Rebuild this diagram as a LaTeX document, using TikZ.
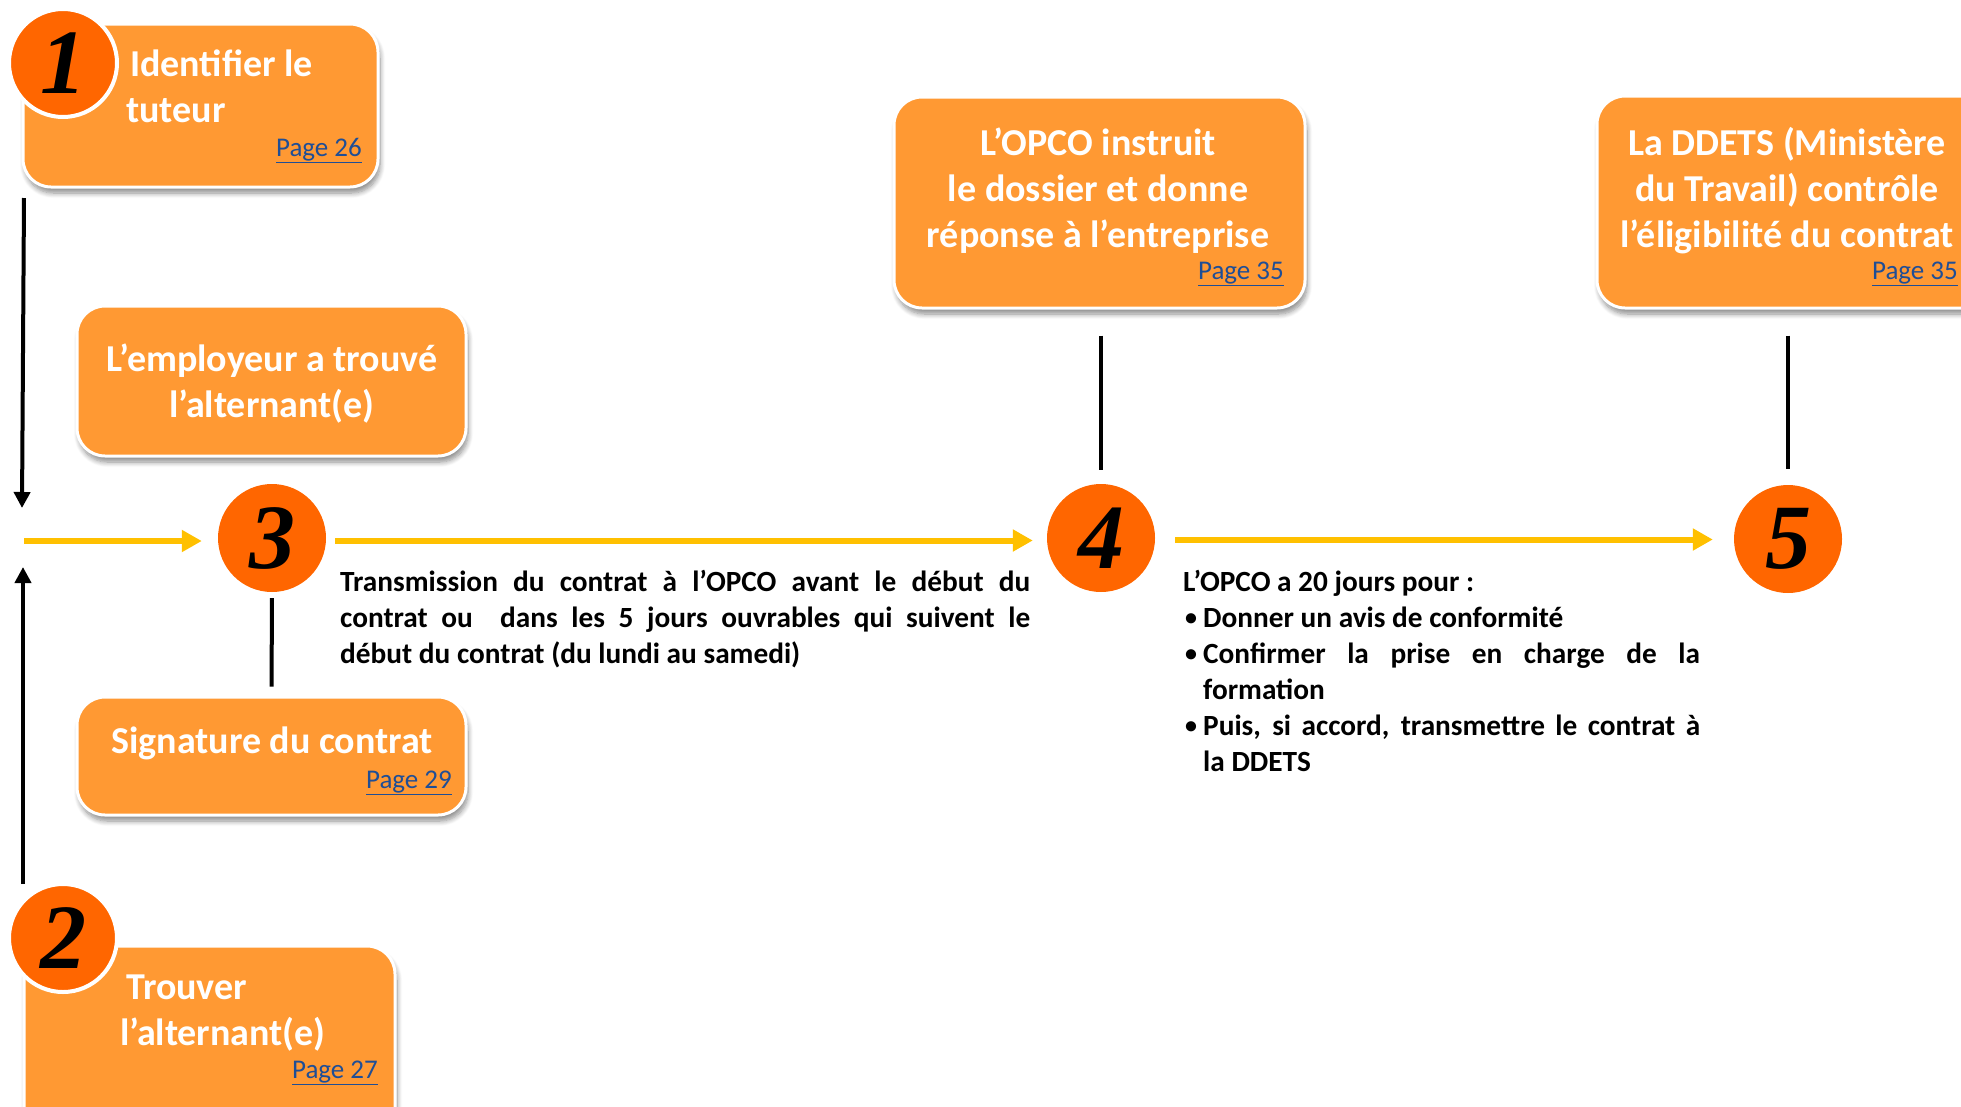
\documentclass[tikz,border=0pt]{standalone}
\usepackage{fontspec}
\setmainfont{Carlito}
\newfontfamily\digitfont{Liberation Serif}
\usetikzlibrary{arrows.meta,shadows.blur}

\definecolor{cardorange}{HTML}{FF9933}
\definecolor{discorange}{HTML}{FF6600}
\definecolor{flowyellow}{HTML}{FFC000}
\definecolor{linkblue}{HTML}{1F4E96}

% small bullet used in the list of tasks
\newcommand{\taskdot}{\makebox[18pt][l]{\raisebox{2pt}{\fontsize{24}{24}\selectfont •}}}
\newcommand{\taskindent}{\makebox[18pt][l]{}}

\tikzset{
  card/.style={rectangle, rounded corners=28pt, fill=cardorange, draw=white,
    line width=3pt, inner sep=0pt,
    blur shadow={shadow xshift=2pt, shadow yshift=-6pt, shadow blur radius=5pt,
      shadow blur steps=8, shadow opacity=45}},
  disc/.style={circle, fill=discorange, inner sep=0pt, minimum size=108pt,
    font=\digitfont\bfseries\itshape\fontsize{92}{92}\selectfont, text=black},
  ringed/.style={draw=white, line width=4pt},
  cardtext/.style={text=white, inner sep=0pt,
    font=\bfseries\fontsize{38}{46}\selectfont},
  pagelink/.style={text=linkblue, inner sep=0pt, anchor=base east,
    font=\fontsize{27}{32}\selectfont},
  body/.style={text=black, inner sep=0pt, anchor=base west,
    font=\bfseries\fontsize{29.3}{36}\selectfont},
  flow/.style={draw=flowyellow, line width=6pt,
    -{Triangle[length=20pt,width=21pt]}},
  tieline/.style={draw=black, line width=4pt},
  pointer/.style={draw=black, line width=4pt,
    -{Triangle[length=16pt,width=16pt]}},
}

\begin{document}
\begin{tikzpicture}[x=1pt,y=-1pt]
\useasboundingbox (0,0) rectangle (1961,1106);
\clip (0,0) rectangle (1961,1106);

% cards
\node[card, minimum width=355pt, minimum height=163pt] (card1) at (200.5,105.5) {};
\node[card, minimum width=389pt, minimum height=150pt] (cardfound) at (271.5,381) {};
\node[card, minimum width=389pt, minimum height=118pt] (cardsign) at (271.5,756) {};
\node[card, minimum width=371pt, minimum height=194pt] (card2) at (209.5,1043) {};
\node[card, minimum width=411pt, minimum height=211pt] (cardopco) at (1099.5,202.5) {};
\node[card, minimum width=393pt, minimum height=212pt] (cardddets) at (1793.5,202) {};

% card texts (positions give the baseline of the last line)
\node[cardtext, anchor=base west, align=left] (t1) at (126,122)
  {\hspace{4pt}Identifier le\\tuteur};
\node[pagelink] (p1) at (362,156) {\underline{Page 26}};

\node[cardtext, anchor=base, align=center] (tfound) at (272,417)
  {L’employeur a trouvé\\l’alternant(e)};

\node[cardtext, anchor=base] (tsign) at (272,753) {Signature du contrat};
\node[pagelink] (psign) at (452,788) {\underline{Page 29}};

\node[cardtext, anchor=base west, align=left] (t2) at (120,1045)
  {\hspace{6pt}Trouver\\l’alternant(e)};
\node[pagelink] (p2) at (378,1078) {\underline{Page 27}};

\node[cardtext, anchor=base, align=center] (topco) at (1098,247)
  {L’OPCO instruit\\le dossier et donne\\réponse à l’entreprise};
\node[pagelink] (popco) at (1284,279) {\underline{Page 35}};

\node[cardtext, anchor=base, align=center] (tddets) at (1787,247)
  {La DDETS (Ministère\\du Travail) contrôle\\l’éligibilité du contrat};
\node[pagelink] (pddets) at (1958,279) {\underline{Page 35}};

% numbered discs
\node[disc, ringed] (d1) at (63,63) {1};
\node[disc, ringed] (d2) at (63,938) {2};
\node[disc] (d3) at (272,538) {3};
\node[disc] (d4) at (1101,538) {4};
\node[disc] (d5) at (1788,539) {5};

% explanatory texts
\node[body, align=left] (transmit) at (340,663)
  {\makebox[690pt][s]{Transmission du contrat à l’OPCO avant le début du}\\
   \makebox[690pt][s]{contrat ou \ dans les 5 jours ouvrables qui suivent le}\\
   début du contrat (du lundi au samedi)};

\node[body] (deadline) at (1183,591) {L’OPCO a 20 jours pour :};
\node[body, align=left] (tasks) at (1185,771)
  {\taskdot Donner un avis de conformité\\
   \taskdot\makebox[497pt][s]{Confirmer la prise en charge de la}\\
   \taskindent formation\\
   \taskdot\makebox[497pt][s]{Puis, si accord, transmettre le contrat à}\\
   \taskindent la DDETS};

% connectors
\coordinate (downstart) at (24,198);
\coordinate (downend) at (22,508);
\coordinate (upstart) at (23,884);
\coordinate (upend) at (23,567);
\coordinate (feed) at (24,541);

\draw[pointer] (downstart) -- (downend);
\draw[pointer] (upstart) -- (upend);
\draw[flow, shorten >=16pt] (feed) -- (feed -| d3.west);
\draw[flow, shorten <=9pt, shorten >=14pt]
  ([yshift=-2.5pt]d3.east) -- ([yshift=-2.5pt]d4.west);
\draw[flow, shorten <=20pt, shorten >=21pt]
  ([yshift=-1.5pt]d4.east) -- ([yshift=-0.5pt]d5.west);
\draw[tieline, shorten <=6pt, shorten >=9pt] (d3.south) -- (cardsign.north);
\draw[tieline, shorten <=26pt, shorten >=14pt] (cardopco.south -| d4) -- (d4.north);
\draw[tieline, shorten <=26pt, shorten >=16pt] (cardddets.south -| d5) -- (d5.north);
\end{tikzpicture}
\end{document}
